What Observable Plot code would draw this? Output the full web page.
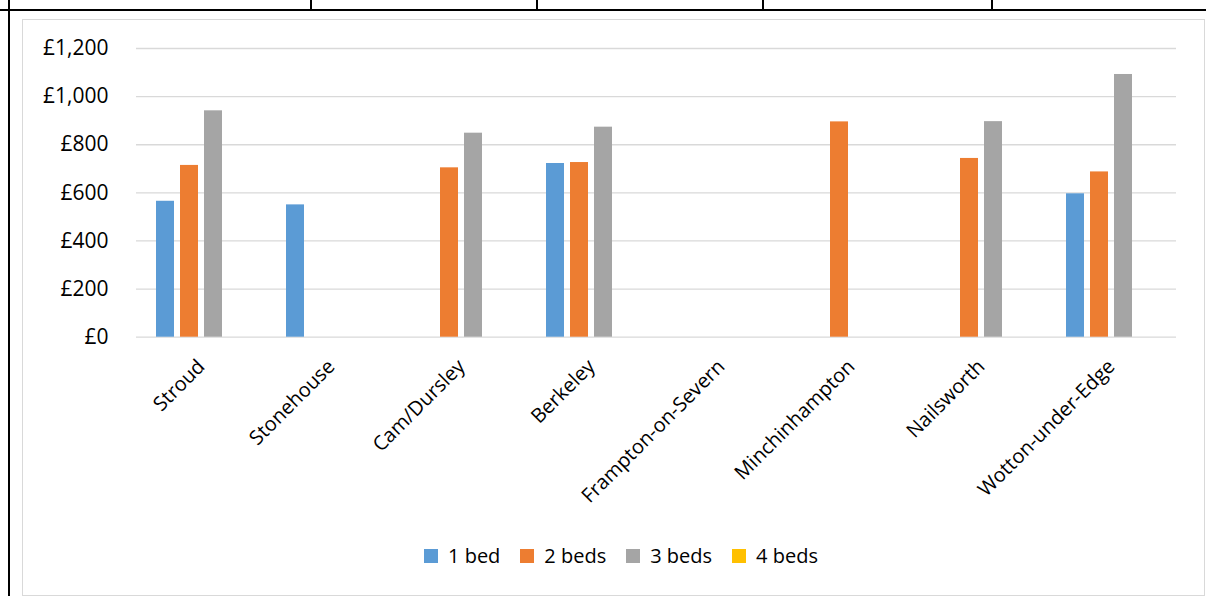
<!DOCTYPE html>
<html>
<head>
<meta charset="utf-8">
<script src="https://cdn.jsdelivr.net/npm/d3@7"></script>
<script src="https://cdn.jsdelivr.net/npm/@observablehq/plot@0.6"></script>
<style>
  html, body { margin: 0; padding: 0; background: #fff; }
  #page { position: relative; width: 1206px; height: 596px; overflow: hidden; font-family: "Open Sans", sans-serif; }
  .rule { position: absolute; background: #000; }
  #frame { position: absolute; left: 22px; top: 18.5px; width: 1181px; height: 575px; border: 1.5px solid #d9d9d9; }
  #chart { position: absolute; left: 0; top: 0; }
  #legend { position: absolute; left: 0; top: 539px; width: 1262px; display: flex; justify-content: center; }
  #chart svg [aria-label^="y-axis"] { font-size: 21px; }
</style>
</head>
<body>
<div id="page">
  <!-- surrounding table cell borders -->
  <div class="rule" style="left:0;top:9px;width:1206px;height:2px"></div>
  <div class="rule" style="left:7.5px;top:0;width:2px;height:596px"></div>
  <div class="rule" style="left:310px;top:0;width:2px;height:10px"></div>
  <div class="rule" style="left:536px;top:0;width:2px;height:10px"></div>
  <div class="rule" style="left:762px;top:0;width:2px;height:10px"></div>
  <div class="rule" style="left:991px;top:0;width:2px;height:10px"></div>
  <div id="frame"></div>
  <div id="chart"></div>
  <div id="legend"></div>
</div>
<script>
// Monthly private rents by town and bedroom count
const towns = ["Stroud", "Stonehouse", "Cam/Dursley", "Berkeley", "Frampton-on-Severn", "Minchinhampton", "Nailsworth", "Wotton-under-Edge"];
const series = ["1 bed", "2 beds", "3 beds", "4 beds"];
const oneBed    = [565, 550, null, 722, null, null, null, 596];
const twoBeds   = [714, null, 704, 726, null, 895, 743, 687];
const threeBeds = [941, null, 848, 873, null, null, 896, 1092];
const fourBeds  = [null, null, null, null, null, null, null, null];
const yTicks = [0, 200, 400, 600, 800, 1000, 1200];
const colors = ["#5b9bd5", "#ed7d31", "#a5a5a5", "#ffc000"];

// one row per town and bedroom count; missing rents stay null
const seriesValues = [oneBed, twoBeds, threeBeds, fourBeds];
const rows = towns.flatMap((town, i) =>
  series.map((beds, j) => ({town, beds, rent: seriesValues[j][i]}))
);
// gridlines belong to every town panel, so towns without data still get theirs
const gridRows = towns.flatMap(town => yTicks.map(value => ({town, value})));

const H = 540;
const chart = Plot.plot({
  width: 1206,
  height: H,
  marginLeft: 135,
  marginRight: 30,
  marginTop: 48,
  marginBottom: H - 336.7,
  style: {fontFamily: "'Open Sans', sans-serif", fontSize: "20px", color: "#000", background: "transparent", overflow: "visible"},
  fx: {domain: towns, padding: 0, axis: "bottom", label: null, tickRotate: -45, tickSize: 0, tickPadding: 26},
  x: {domain: series, paddingInner: 0.23, paddingOuter: 0.8, axis: null},
  y: {domain: [0, 1200], ticks: yTicks, tickFormat: d => "£" + d3.format(",")(d), tickSize: 0, tickPadding: 28, label: null},
  color: {domain: series, range: colors},
  marks: [
    Plot.ruleY(gridRows, {fx: "town", y: "value", stroke: "#d9d9d9", strokeWidth: 1.3}),
    Plot.barY(rows, {fx: "town", x: "beds", y: "rent", fill: "beds"})
  ]
});
document.getElementById("chart").appendChild(chart);

const legend = Plot.legend({
  color: {domain: series, range: colors},
  legend: "swatches",
  swatchSize: 14,
  style: {fontFamily: "'Open Sans', sans-serif", fontSize: "20px", color: "#000"}
});
document.getElementById("legend").appendChild(legend);
</script>
</body>
</html>
